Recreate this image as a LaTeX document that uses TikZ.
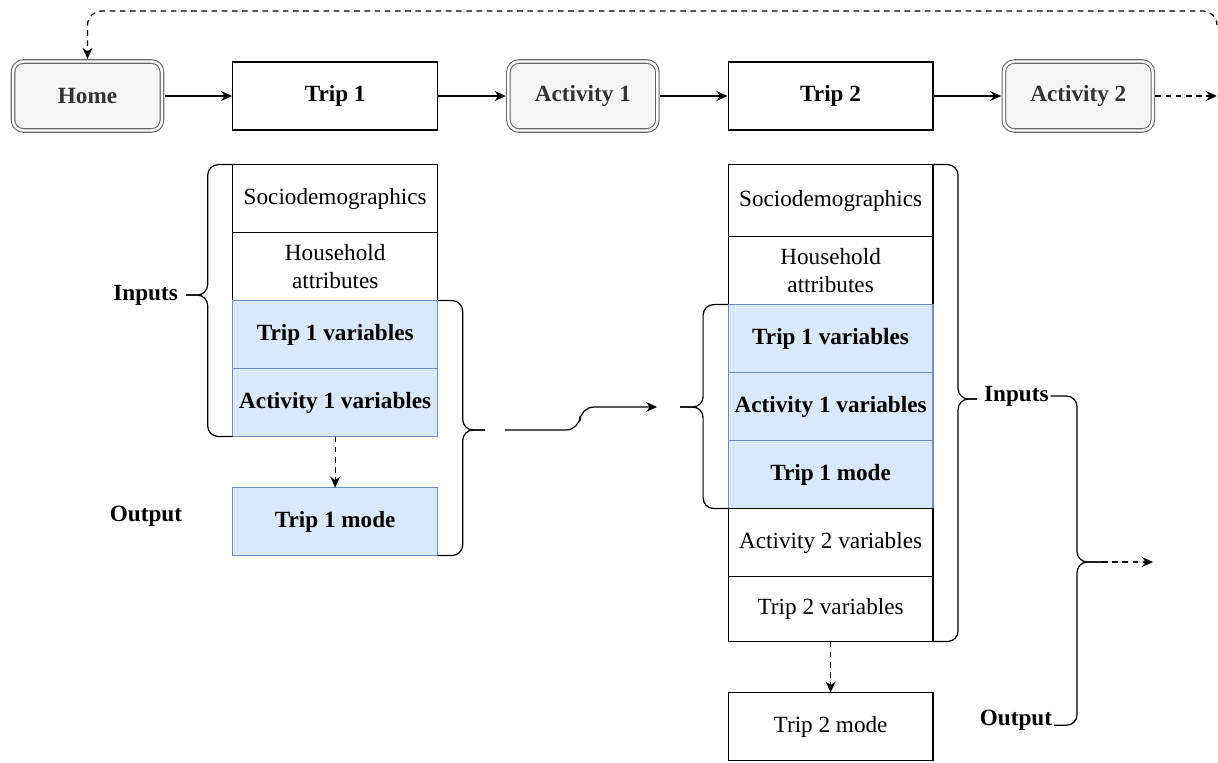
\documentclass[tikz,border=0pt]{standalone}
\usepackage{fontspec}
\setmainfont{Liberation Serif}
\usetikzlibrary{arrows.meta,positioning}
\definecolor{placegray}{RGB}{102,102,102}
\definecolor{placefill}{RGB}{245,245,245}
\definecolor{labelgray}{RGB}{51,51,51}
\definecolor{varblue}{RGB}{108,142,191}
\definecolor{varfill}{RGB}{218,232,252}

\begin{document}
\begin{tikzpicture}[
    x=0.02cm, y=-0.02cm,
    node distance=1.35cm,
    every node/.style={font=\fontsize{13.2}{15.5}\selectfont},
    place/.style={rectangle,rounded corners=6pt,draw=placegray,double=white,double distance=1.4pt,
      line width=0.6pt,fill=placefill,minimum width=2.98cm,minimum height=1.38cm,outer sep=1.5pt,
      text=labelgray,font=\fontsize{13.2}{15.5}\selectfont\bfseries},
    trip/.style={rectangle,draw=black,line width=0.7pt,minimum width=4.1cm,minimum height=1.36cm,
      font=\fontsize{13.2}{15.5}\selectfont\bfseries},
    cell/.style={rectangle,draw=black,line width=0.7pt,minimum width=4.1cm,minimum height=1.36cm,
      align=center,inner sep=2pt,outer sep=0pt},
    varcell/.style={cell,draw=varblue,fill=varfill,font=\fontsize{13.2}{15.5}\selectfont\bfseries},
    lbl/.style={inner sep=1pt,font=\fontsize{13.2}{15.5}\selectfont\bfseries},
    curly/.style={line width=0.7pt,rounded corners=6pt},
    arrow/.style={-{Stealth[length=2.2mm,width=2mm]},line width=0.7pt},
    dasharrow/.style={arrow,dash pattern=on 3.2pt off 2.6pt}
  ]
    \useasboundingbox (0,0) rectangle (1218,762);

    % activity chain
    \node[place] (home) at (87.5,96) {Home};
    \node[trip,right=of home] (trip1) {Trip 1};
    \node[place,right=of trip1] (act1) {Activity 1};
    \node[trip,right=of act1] (trip2) {Trip 2};
    \node[place,right=of trip2] (act2) {Activity 2};
    \coordinate (nextTop) at (1217,96);
    \coordinate (loopR) at (1217,24);
    \coordinate (loopT) at (87.5,11);

    \draw[arrow] (home) -- (trip1);
    \draw[arrow] (trip1) -- (act1);
    \draw[arrow] (act1) -- (trip2);
    \draw[arrow] (trip2) -- (act2);
    \draw[dasharrow] (act2) -- (nextTop);
    \draw[dasharrow,rounded corners=8pt] (loopR) |- (loopT) -- (home.north);

    % first trip model
    \node[cell,below=0.68cm of trip1] (socio1) {Sociodemographics};
    \node[cell,below=0pt of socio1] (house1) {Household\\attributes};
    \node[varcell,below=0pt of house1] (tripvar1) {Trip 1 variables};
    \node[varcell,below=0pt of tripvar1] (actvar1) {Activity 1 variables};
    \node[varcell,below=1.02cm of actvar1] (mode1) {Trip 1 mode};
    \draw[dasharrow] (actvar1) -- (mode1);

    \coordinate (tipA) at (186,295);
    \coordinate (tipD) at (485,430);
    \draw[curly] (socio1.north west) -- ++(-25,0) |- (tipA);
    \draw[curly] (actvar1.south west) -- ++(-25,0) |- (tipA);
    \node[lbl,left=0.12cm of tipA] (inputs1) {Inputs};
    \node[lbl] (output1) at (146,516) {Output};

    \draw[curly] (tripvar1.north east) -- ++(25,0) |- (tipD);
    \draw[curly] (mode1.south east) -- ++(25,0) |- (tipD);

    % carried over
    \coordinate (gapL) at (505,430);
    \coordinate (gapR) at (657,407);
    \draw[arrow,rounded corners=8pt] (gapL) -- ++(75,0) |- (gapR);

    % second trip model
    \node[cell,below=0.68cm of trip2,minimum height=1.44cm] (socio2) {Sociodemographics};
    \node[cell,below=0pt of socio2] (house2) {Household\\attributes};
    \node[varcell,below=0pt of house2] (tripvar2) {Trip 1 variables};
    \node[varcell,below=0pt of tripvar2] (actvar2) {Activity 1 variables};
    \node[varcell,below=0pt of actvar2] (mode2) {Trip 1 mode};
    \node[cell,below=0pt of mode2] (actnext2) {Activity 2 variables};
    \node[cell,below=0pt of actnext2,minimum height=1.3cm] (tripnext2) {Trip 2 variables};
    \node[cell,below=1.02cm of tripnext2] (modenext2) {Trip 2 mode};
    \draw[dasharrow] (tripnext2) -- (modenext2);

    \coordinate (tipE) at (680,407);
    \coordinate (tipB) at (977,399);
    \draw[curly] (tripvar2.north west) -- ++(-25,0) |- (tipE);
    \draw[curly] (mode2.south west) -- ++(-25,0) |- (tipE);

    \draw[curly] (socio2.north east) -- ++(25,0) |- (tipB);
    \draw[curly] (tripnext2.south east) -- ++(25,0) |- (tipB);
    \node[lbl,anchor=west] (inputs2) at ([xshift=0.1cm,yshift=0.06cm]tipB) {Inputs};
    \node[lbl] (output2) at (1016,720) {Output};

    \coordinate (tipC) at (1102,562);
    \coordinate (nextR) at (1153,562);
    \draw[curly] (inputs2.east) -| ([xshift=-0.5cm]tipC) -- (tipC);
    \draw[curly] (output2.base east) -| ([xshift=-0.5cm]tipC) -- (tipC);
    \draw[dasharrow] (tipC) -- (nextR);
  \end{tikzpicture}
\end{document}
